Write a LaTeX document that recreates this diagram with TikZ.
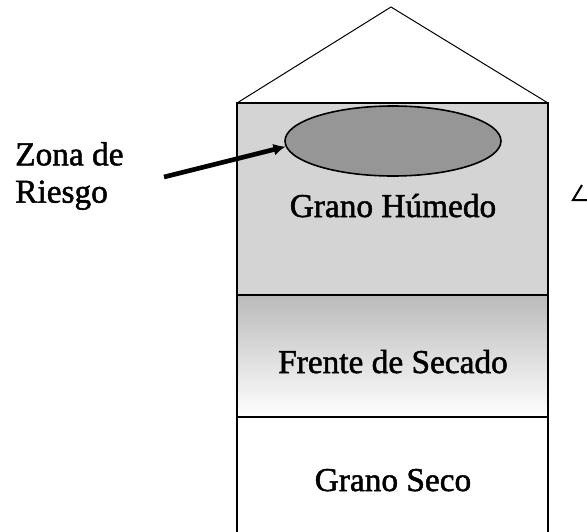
\documentclass[tikz,border=0pt]{standalone}
\usepackage{fontspec}
\setmainfont{Liberation Serif}
\newfontfamily\silofont{Liberation Serif}[FakeBold=1.5]
\usetikzlibrary{shapes.geometric}
\usetikzlibrary{arrows.meta}

\begin{document}
\begin{tikzpicture}[x=0.75pt,y=-0.75pt]

  \tikzset{LBL/.style={font=\silofont\fontsize{25}{28}\selectfont, inner sep=0pt}}
  \tikzset{WALL/.style={line width=1.5pt}}
  \tikzset{ZONE/.style={ellipse, draw, line width=1.2pt, fill=black!41,
      minimum width=162pt, minimum height=52.5pt, inner sep=0pt}}

  \useasboundingbox (0,0) rectangle (587,532);

  \fill[black!17] (237,103) rectangle (548,295);
  \shade[top color=black!27, bottom color=white] (237,295) rectangle (548,417);

  \node[ZONE] (risk) at (393,141) {};

  \draw[line width=0.75pt] (237,103) -- (391,7) -- (548,103);
  \draw[WALL] (237,532) -- (237,103) -- (548,103) -- (548,532);
  \draw[WALL] (237,295) -- (548,295);
  \draw[WALL] (237,417) -- (548,417);

  \node[LBL, anchor=base] (wet) at (393,217) {Grano Húmedo};
  \node[LBL, anchor=base] (front) at (393,373) {Frente de Secado};
  \node[LBL, anchor=base] (dry) at (393,491) {Grano Seco};
  \node[LBL, anchor=west, align=left] (zlbl) at (15,176) {Zona de\\Riesgo};

  \coordinate (tail) at (164,177);
  \draw[line width=3.5pt, -{Latex[length=9pt,width=9pt]}] (tail) -- (risk.183);

  \draw[line width=1.5pt] (582,185) -- (573,200) -- (587,200);
\end{tikzpicture}
\end{document}
